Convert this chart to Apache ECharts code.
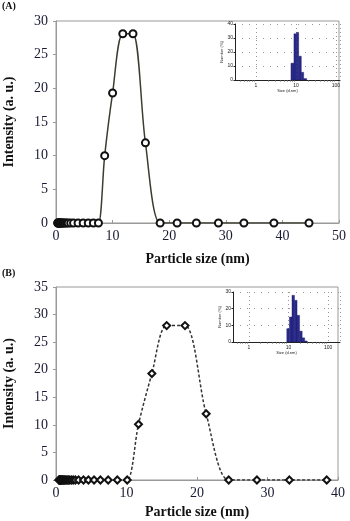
<!DOCTYPE html>
<html>
<head>
<meta charset="utf-8">
<script src="https://cdn.jsdelivr.net/npm/echarts@6/dist/echarts.min.js"></script>
<style>
  html, body { margin: 0; padding: 0; background: #fff; }
  #chart { width: 350px; height: 521px; }
</style>
</head>
<body>
<div id="chart"></div>
<script>
// panel (A): DLS intensity vs particle size
const sizesA = [0.3, 0.35, 0.4, 0.46, 0.53, 0.6, 0.7, 0.8, 0.92, 1.05, 1.2, 1.38, 1.6, 1.85, 2.15, 2.6,
  3.1, 3.9, 4.8, 5.7, 6.6, 7.5, 8.6, 10.0, 11.8, 13.6, 15.8, 18.4, 21.4, 24.8, 28.7, 33.2, 38.5, 44.7];
const intensityA = [0, 0, 0, 0, 0, 0, 0, 0, 0, 0, 0, 0, 0, 0, 0, 0,
  0, 0, 0, 0, 0, 0, 10.0, 19.3, 28.1, 28.1, 11.9, 0, 0, 0, 0, 0, 0, 0];

// panel (B)
const sizesB = [0.4, 0.5, 0.55, 0.6, 0.66, 0.72, 0.8, 0.88, 0.97, 1.07, 1.18, 1.3, 1.43, 1.58, 1.75, 1.95,
  2.2, 2.45, 2.75, 3.2, 3.9, 4.6, 5.4, 6.3, 7.4, 8.7, 10.1, 11.7, 13.6, 15.7, 18.3, 21.3, 24.5, 28.5, 33.1, 38.4];
const intensityB = [0, 0, 0, 0, 0, 0, 0, 0, 0, 0, 0, 0, 0, 0, 0, 0,
  0, 0, 0, 0, 0, 0, 0, 0, 0, 0, 0, 10.1, 19.3, 28.0, 28.0, 12.0, 0, 0, 0, 0];

// inset histograms (number %), log-size bins
const binEdgesA = [7.5, 8.9, 10.3, 11.7, 13.6, 15.6, 18.5];
const numberA = [12, 33, 34, 17, 5.5, 1];
const binEdgesB = [9.1, 10.6, 12.3, 14.2, 16.5, 19.1, 22.2, 25.7, 29.8];
const numberB = [8, 15, 28, 25, 16, 6.5, 2.5, 0.6];

const serif = "Liberation Serif";
const sans = "Liberation Sans";

const zip = (xs, ys) => xs.map((x, i) => [x, ys[i]]);
const bins = (edges, vals) => vals.map((v, i) => [edges[i], edges[i + 1], v]);

function mainX(idx, max, gap) {
  return {
    gridIndex: idx, type: "value", min: 0, max: max, interval: 10,
    name: "Particle size (nm)", nameLocation: "middle", nameGap: gap,
    nameTextStyle: { fontFamily: serif, fontWeight: "bold", fontSize: 14, color: "#111" },
    axisLine: { lineStyle: { color: "#999" } },
    axisTick: { inside: true, length: 3, lineStyle: { color: "#999" } },
    axisLabel: { fontFamily: serif, fontSize: 14, color: "#1a1a33", margin: 6 },
    splitLine: { show: false }
  };
}
function mainY(idx, max) {
  return {
    gridIndex: idx, type: "value", min: 0, max: max, interval: 5,
    name: "Intensity (a. u.)", nameLocation: "middle", nameGap: 40,
    nameTextStyle: { fontFamily: serif, fontWeight: "bold", fontSize: 14, color: "#111" },
    axisLine: { show: true, lineStyle: { color: "#999" } },
    axisTick: { show: true, length: 3, lineStyle: { color: "#999" } },
    axisLabel: { fontFamily: serif, fontSize: 14, color: "#1a1a33", margin: 8 },
    splitLine: { show: false }
  };
}
const isDecade = (v) => Math.abs(Math.log10(v) - Math.round(Math.log10(v))) < 1e-6;
function insetX(idx, min, max) {
  return {
    gridIndex: idx, type: "log", logBase: 10, min: min, max: max,
    name: "Size (d.nm)", nameLocation: "middle", nameGap: 9,
    nameTextStyle: { fontFamily: sans, fontSize: 4, color: "#222" },
    axisLine: { lineStyle: { color: "#222", width: 1 } },
    axisTick: { show: false },
    minorTick: { show: true, splitNumber: 9, length: 1.5, lineStyle: { color: "#555" } },
    axisLabel: {
      fontFamily: sans, fontSize: 5, color: "#222", margin: 3,
      showMinLabel: false, showMaxLabel: false,
      formatter: (v) => isDecade(v) ? String(Math.round(v)) : ""
    },
    splitLine: { show: true, lineStyle: { color: "#999", type: [1, 3], width: 1 } }
  };
}
function insetY(idx, max) {
  return {
    gridIndex: idx, type: "value", min: 0, max: max, interval: 10,
    name: "Number (%)", nameLocation: "middle", nameGap: 8,
    nameTextStyle: { fontFamily: sans, fontSize: 4, color: "#222" },
    axisLine: { show: true, lineStyle: { color: "#222", width: 1 } },
    axisTick: { show: true, length: 1.5, lineStyle: { color: "#222" } },
    axisLabel: { fontFamily: sans, fontSize: 5, color: "#222", margin: 2 },
    splitLine: { show: true, lineStyle: { color: "#999", type: [1, 6], width: 1 } }
  };
}

function histItem(params, api) {
  const lo = api.coord([api.value(0), 0]);
  const hi = api.coord([api.value(1), api.value(2)]);
  return {
    type: "rect",
    shape: { x: lo[0], y: hi[1], width: hi[0] - lo[0], height: lo[1] - hi[1] },
    style: { fill: "#2a2a8e", stroke: "#15155a", lineWidth: 0.4 }
  };
}

const chart = echarts.init(document.getElementById("chart"));

chart.setOption({
  animation: false,
  backgroundColor: "#fff",
  grid: [
    { left: 56, top: 21, width: 283, height: 202, show: true, borderColor: "#999", borderWidth: 1, outerBoundsMode: "none" },
    { left: 56, top: 287, width: 282, height: 193, show: true, borderColor: "#999", borderWidth: 1, outerBoundsMode: "none" },
    { left: 235, top: 24, width: 105, height: 56, outerBoundsMode: "none" },
    { left: 233, top: 292, width: 107, height: 50, outerBoundsMode: "none" }
  ],
  xAxis: [mainX(0, 50, 29), mainX(1, 40, 25), insetX(2, 0.3, 126), insetX(3, 0.4, 200)],
  yAxis: [mainY(0, 30), mainY(1, 35), insetY(2, 40), insetY(3, 30)],
  graphic: [
    { type: "text", left: 2, top: 1, style: { text: "(A)", font: "bold 10px 'Liberation Serif'", fill: "#111" } },
    { type: "text", left: 2, top: 268, style: { text: "(B)", font: "bold 10px 'Liberation Serif'", fill: "#111" } }
  ],
  series: [
    {
      type: "line", xAxisIndex: 0, yAxisIndex: 0, data: zip(sizesA, intensityA),
      smooth: 0.3, symbol: "emptyCircle", symbolSize: 7,
      lineStyle: { color: "#3c3c30", width: 1.5 },
      itemStyle: { color: "#111", borderColor: "#111", borderWidth: 1.5 }
    },
    {
      type: "line", xAxisIndex: 1, yAxisIndex: 1, data: zip(sizesB, intensityB),
      smooth: 0.3, symbol: "emptyDiamond", symbolSize: 7,
      lineStyle: { color: "#333", width: 1.5, type: [3, 2] },
      itemStyle: { color: "#111", borderColor: "#111", borderWidth: 1.5 }
    },
    {
      type: "custom", xAxisIndex: 2, yAxisIndex: 2, data: bins(binEdgesA, numberA),
      renderItem: histItem, encode: { x: [0, 1], y: 2 }
    },
    {
      type: "custom", xAxisIndex: 3, yAxisIndex: 3, data: bins(binEdgesB, numberB),
      renderItem: histItem, encode: { x: [0, 1], y: 2 }
    }
  ]
});

window.addEventListener("resize", () => chart.resize());
</script>
</body>
</html>
